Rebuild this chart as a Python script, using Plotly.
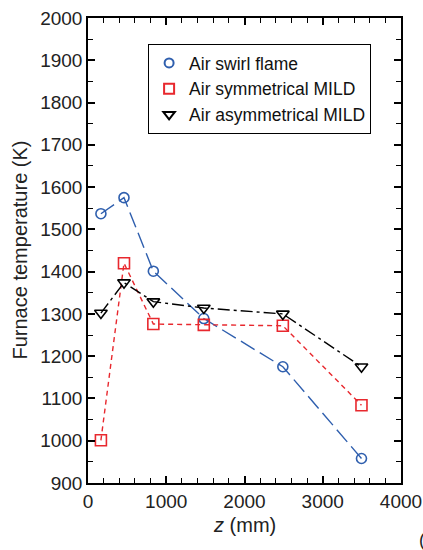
import plotly.graph_objects as go

z_mm = [165, 460, 835, 1480, 2490, 3495]
swirl = [1537, 1575, 1401, 1289, 1175, 958]
sym_mild = [1001, 1420, 1276, 1274, 1272, 1084]
asym_mild = [1302, 1374, 1329, 1314, 1300, 1175]

names = ["Air swirl flame", "Air symmetrical MILD", "Air asymmetrical MILD"]
colors = ["#2f5fae", "#e8282e", "#000000"]
symbols = ["circle-open", "square-open", "triangle-down-open"]
dashes = ["16px,6px", "5px,4px", "12px,4px,3px,4px"]
sizes = [10, 11, 11]
series = [swirl, sym_mild, asym_mild]

fig = go.Figure()
for s, n, c, sym, d, sz in zip(series, names, colors, symbols, dashes, sizes):
    fig.add_trace(go.Scatter(
        x=z_mm, y=s, mode="lines+markers", showlegend=False,
        line=dict(color=c, width=1.4, dash=d),
        marker=dict(symbol=sym, size=sz, color=c, line=dict(width=1.6, color=c)),
    ))
for n, c, sym, sz in zip(names, colors, symbols, sizes):
    fig.add_trace(go.Scatter(
        x=[None], y=[None], mode="markers", name=n,
        marker=dict(symbol=sym, size=sz - 1, color=c, line=dict(width=2, color=c)),
    ))

font = "Liberation Sans, Arial, sans-serif"
fig.update_layout(
    width=423, height=550,
    margin=dict(l=88, r=22, t=18, b=67, autoexpand=False),
    plot_bgcolor="white", paper_bgcolor="white",
    font=dict(family=font, size=18, color="#222222"),
    showlegend=True,
    legend=dict(x=0.192, y=0.944, xanchor="left", yanchor="top",
                bordercolor="#000000", borderwidth=1, bgcolor="white",
                font=dict(size=17.5, color="#111111"), itemwidth=30,
                tracegroupgap=0),
    xaxis=dict(range=[0, 4000], tickvals=[0, 1000, 2000, 3000, 4000],
               ticks="inside", ticklen=7, tickwidth=1.5, tickcolor="black",
               showline=True, linecolor="black", linewidth=1.5, mirror="ticks",
               showgrid=False, zeroline=False, automargin=False,
               minor=dict(dtick=200, ticks="inside", ticklen=5, tickwidth=1.2, tickcolor="black"),
               tickfont=dict(size=19)),
    yaxis=dict(range=[900, 2000], dtick=100,
               ticks="inside", ticklen=7, tickwidth=1.5, tickcolor="black",
               showline=True, linecolor="black", linewidth=1.5, mirror="ticks",
               showgrid=False, zeroline=False, automargin=False,
               minor=dict(dtick=50, ticks="inside", ticklen=5, tickwidth=1.2, tickcolor="black"),
               tickfont=dict(size=19)),
)
fig.add_annotation(text="Furnace temperature (K)", xref="paper", yref="paper",
                   x=0, y=0.5, xshift=-69, xanchor="center", yanchor="middle",
                   textangle=-90, showarrow=False, font=dict(size=20, color="#222222"))
fig.add_annotation(text="<i>z</i> (mm)", xref="paper", yref="paper",
                   x=0.5, y=0, yshift=-42, xanchor="center", yanchor="middle",
                   showarrow=False, font=dict(size=20, color="#222222"))
fig.add_annotation(text="(a)", xref="paper", yref="paper", x=1.0, y=0,
                   xshift=16, yshift=-57, xanchor="left", yanchor="middle",
                   showarrow=False, font=dict(size=18, color="#222222"))
fig.write_html("out.html", config={"displayModeBar": False},
               post_script="document.body.style.margin='0';document.body.style.padding='0';")
